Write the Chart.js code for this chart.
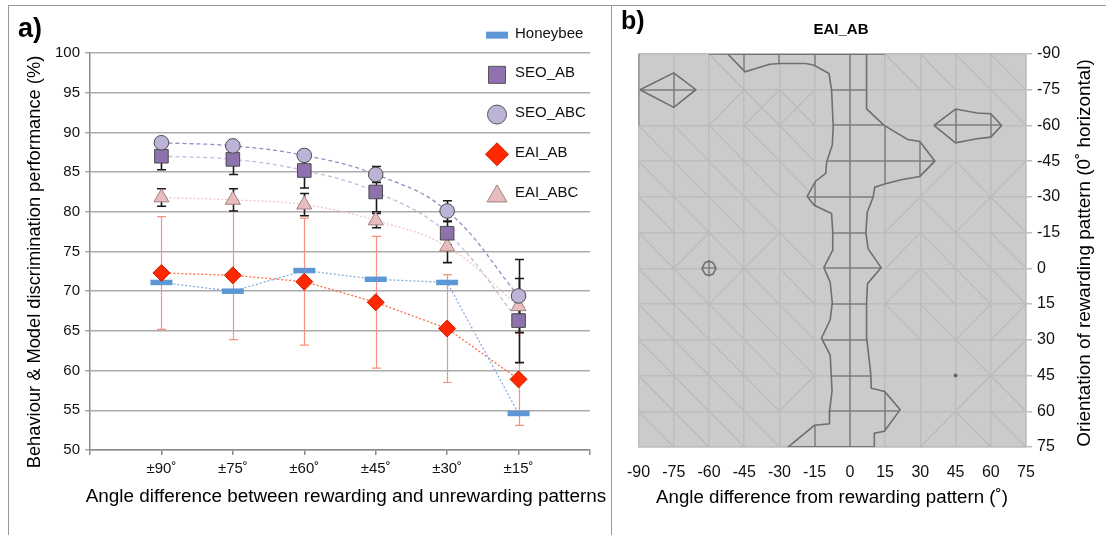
<!DOCTYPE html>
<html><head><meta charset="utf-8">
<script src="https://cdn.jsdelivr.net/npm/chart.js@4.4.1/dist/chart.umd.min.js"></script>
<style>
html,body{margin:0;padding:0;background:#fff;width:1106px;height:535px;overflow:hidden;}
#wrapA{position:absolute;left:0;top:0;width:611px;height:535px;}
#wrapB{position:absolute;left:611px;top:0;width:495px;height:535px;}
.frame{position:absolute;background:#999;}
</style></head><body>
<div id="wrapA"><canvas id="cA" width="611" height="535"></canvas></div>
<div id="wrapB"><canvas id="cB" width="495" height="535"></canvas></div>
<div class="frame" style="left:8px;top:5px;width:1098px;height:1px"></div>
<div class="frame" style="left:8px;top:5px;width:1px;height:530px"></div>
<div class="frame" style="left:611px;top:5px;width:1px;height:530px"></div>
<script>
// ---------- Panel a data ----------
const categories = ['±90˚','±75˚','±60˚','±45˚','±30˚','±15˚'];
const honeybee   = [71.1, 70.0, 72.6, 71.5, 71.1, 54.6];
const seoAB      = [87.0, 86.6, 85.2, 82.5, 77.3, 66.3];
const seoABErr   = [1.7, 1.9, 2.2, 2.5, 1.5, 5.3];
const seoABC     = [88.7, 88.3, 87.1, 84.7, 80.1, 69.4];
const seoABCErr  = [0.5, 0.5, 0.7, 1.0, 1.3, 4.6];
const eaiAB      = [72.3, 72.0, 71.2, 68.6, 65.3, 58.9];
const eaiABErr   = [7.1, 8.1, 8.0, 8.3, 6.8, 5.8];
const eaiABC     = [81.8, 81.5, 80.9, 78.9, 75.6, 68.1];
const eaiABCErr  = [1.1, 1.4, 1.4, 0.9, 2.0, 1.0];
const legendLabels = ['Honeybee','SEO_AB','SEO_ABC','EAI_AB','EAI_ABC'];

// ---------- Panel b data ----------
const xTicksB = [-90,-75,-60,-45,-30,-15,0,15,30,45,60,75];
const yTicksB = [-90,-75,-60,-45,-30,-15,0,15,30,45,60,75];
const mainBand = [
 [-52,-90],[-44.7,-82.5],[-34.1,-85.7],[-29.9,-86],[-18.7,-86],[-15.2,-85.3],[-8.9,-81.8],[-7.8,-74.8],
 [-7.1,-59.7],[-7.5,-51.7],[-9.9,-44.7],[-10.3,-39.9],[-14.6,-36.6],[-18.2,-30.2],[-15.2,-26.5],[-7.8,-23],
 [-7.3,-15.3],[-7.3,-7.7],[-11.1,-0.3],[-8.4,5.8],[-7.5,14.5],[-8.4,21.6],[-12.1,29.3],[-8.4,36.4],[-7.6,51.3],
 [-8.6,59.5],[-8.7,65.3],[-15.1,65.9],[-26.3,75],
 [10.3,75],[10.4,69.2],[14.7,68.4],[21.4,59.3],[14.8,51.7],[9.1,50.3],[8.9,44.4],[8.1,37.4],[7.2,29.7],
 [7.1,14.6],[7.5,6.4],[13.3,-0.3],[7.8,-8.1],[6.8,-15],[7.4,-23.6],[9.9,-29.9],[10.6,-34.1],[14.8,-35.4],
 [21.8,-37.2],[29.8,-38.6],[36.2,-45],[29.8,-53.3],[24.6,-54.1],[14.6,-60],[7.1,-67],[7.1,-90]
];
const blobUpperLeft = [[-89.4,-75],[-75,-82.1],[-65.6,-75],[-75,-67.6]];
const blobRight = [[35.8,-60],[45,-66.9],[54.1,-65.2],[60,-64.9],[64.6,-60],[60,-55.1],[54.1,-54.4],[45,-52.7]];
const blobSmall = [[-63,0],[-61.7,-2.4],[-60,-3.1],[-58.3,-2.4],[-57,0],[-58.3,2.4],[-60,3.1],[-61.7,2.4]];
const topEdgeDark = [[-60,-90],[15,-90]];
const leftEdgeDark = [[-90,-90],[-90,-60]];
const isolatedPoint = [[45,45]];
// diagonal direction of each cell: b = "\" , f = "/", x = both, . = none
const diagPattern = [
 '..b....bbbb',
 '..fxx.....b',
 'bbbbb......',
 'bbbbb...fbf',
 'bbbb...fbfb',
 'bfbfb..fbbb',
 'bbfbb..fbbb',
 'bbbbb..bbff',
 'bbbbb....bf',
 'bbbbf....fb',
 'bbbb....fbb'
];

const FONT = '"Liberation Sans", Arial, Helvetica, sans-serif';
Chart.defaults.font.family = FONT;
Chart.defaults.color = '#1a1a1a';

const pts = arr => arr.map((v, i) => ({x: i + 1, y: v}));

function trend(label, arr, color, dash, tension, width) {
  return {label, data: pts(arr), borderColor: color, borderWidth: width, borderDash: dash,
          pointRadius: 0, tension, fill: false, order: 10};
}
function markers(label, arr, style, radius, bg, border, bw, order, extra) {
  return Object.assign({label, data: pts(arr), showLine: false, pointStyle: style, pointRadius: radius,
          pointBackgroundColor: bg, pointBorderColor: border, pointBorderWidth: bw,
          backgroundColor: bg, borderColor: border, order}, extra || {});
}

const colHB = '#5d97d6', colSEOAB = '#8d72ae', colSEOABC = '#bdb3d7', colEAIAB = '#ff2800', colEAIABC = '#e9bdbd';

const errorBarPlugin = {
  id: 'errorBars',
  beforeDatasetDraw(chart, args) {
    const ds = chart.data.datasets[args.index];
    if (!ds.errorSets) return;
    const {ctx, scales: {x, y}} = chart;
    ctx.save();
    ds.errorSets.forEach(set => {
      ctx.strokeStyle = set.color; ctx.lineWidth = set.width;
      set.values.forEach((v, i) => {
        const px = Math.round(x.getPixelForValue(i + 1)) + 0.5;
        const top = y.getPixelForValue(v + set.err[i]);
        const bot = y.getPixelForValue(v - set.err[i]);
        ctx.beginPath();
        ctx.moveTo(px, top); ctx.lineTo(px, bot);
        ctx.moveTo(px - 4.5, top); ctx.lineTo(px + 4.5, top);
        ctx.moveTo(px - 4.5, bot); ctx.lineTo(px + 4.5, bot);
        ctx.stroke();
      });
    });
    ctx.restore();
  }
};

const legendA = {
  id: 'legendA',
  afterDraw(chart) {
    const {ctx, scales: {y}, chartArea: a} = chart;
    const mx = a.right - 93, tx = a.right - 75;
    ctx.save();
    legendLabels.forEach((lab, i) => {
      const cy = y.getPixelForValue(102.5 - 5 * i) + 2;
      ctx.lineWidth = 1;
      ctx.beginPath();
      if (i === 0) { ctx.fillStyle = colHB; ctx.fillRect(mx - 11, cy - 3.5, 22, 7); }
      else if (i === 1) { ctx.fillStyle = colSEOAB; ctx.strokeStyle = '#555'; ctx.rect(mx - 8.5, cy - 8.5, 17, 17); ctx.fill(); ctx.stroke(); }
      else if (i === 2) { ctx.fillStyle = colSEOABC; ctx.strokeStyle = '#555'; ctx.arc(mx, cy, 9.5, 0, Math.PI * 2); ctx.fill(); ctx.stroke(); }
      else if (i === 3) { ctx.fillStyle = colEAIAB; ctx.strokeStyle = '#c81e00'; ctx.moveTo(mx, cy - 11.5); ctx.lineTo(mx + 11.5, cy); ctx.lineTo(mx, cy + 11.5); ctx.lineTo(mx - 11.5, cy); ctx.closePath(); ctx.fill(); ctx.stroke(); }
      else { ctx.fillStyle = colEAIABC; ctx.strokeStyle = '#9d8080'; ctx.moveTo(mx, cy - 9); ctx.lineTo(mx + 10, cy + 8); ctx.lineTo(mx - 10, cy + 8); ctx.closePath(); ctx.fill(); ctx.stroke(); }
      ctx.fillStyle = '#111'; ctx.font = '15px ' + FONT; ctx.textBaseline = 'middle'; ctx.textAlign = 'left';
      ctx.fillText(lab, tx, cy - 1.5);
    });
    ctx.restore();
  }
};

const labelsA = {
  id: 'labelsA',
  afterDraw(chart) {
    const {ctx} = chart;
    ctx.save();
    ctx.fillStyle = '#000';
    ctx.font = 'bold 27px ' + FONT; ctx.textAlign = 'left'; ctx.textBaseline = 'alphabetic';
    ctx.fillText('a)', 18, 37);
    ctx.font = '18.9px ' + FONT; ctx.textAlign = 'center'; ctx.textBaseline = 'middle';
    ctx.fillText('Angle difference between rewarding and unrewarding patterns', 346, 497);
    ctx.font = '18.3px ' + FONT;
    ctx.translate(35, 262); ctx.rotate(-Math.PI / 2);
    ctx.fillText('Behaviour & Model discrimination performance (%)', 0, 0);
    ctx.restore();
  }
};

new Chart(document.getElementById('cA'), {
  type: 'line',
  data: { datasets: [
    trend('hbTrend', honeybee, '#86acdf', [2, 2], 0, 1.3),
    trend('seoABCTrend', seoABC, '#958dc4', [4, 3], 0.4, 1.3),
    trend('seoABTrend', seoAB, '#c3bbdf', [4, 3], 0.4, 1.3),
    trend('eaiABTrend', eaiAB, '#ff6a4a', [2, 2], 0, 1.3),
    trend('eaiABCTrend', eaiABC, '#f0c4c4', [2, 2], 0.4, 1.3),
    markers('Honeybee', honeybee, 'line', 11, colHB, colHB, 5.5, 5,
      {errorSets: [{values: eaiAB, err: eaiABErr, color: '#f7907c', width: 1.2}]}),
    markers('EAI_AB', eaiAB, 'rectRot', 8.5, colEAIAB, '#c81e00', 1, 4),
    markers('EAI_ABC', eaiABC, 'triangle', 8.7, colEAIABC, '#9d8080', 1, 3,
      {errorSets: [
        {values: eaiABC, err: eaiABCErr, color: '#1a1a1a', width: 1.6},
        {values: seoAB, err: seoABErr, color: '#1a1a1a', width: 1.6},
        {values: seoABC, err: seoABCErr, color: '#1a1a1a', width: 1.6}]}),
    markers('SEO_AB', seoAB, 'rect', 9.6, colSEOAB, '#4a4a4a', 1, 2),
    markers('SEO_ABC', seoABC, 'circle', 7.3, colSEOABC, '#4a4a4a', 1, 1)
  ]},
  options: {
    responsive: false, animation: false, events: [],
    layout: {padding: {top: 53, right: 21, left: 0, bottom: 0}},
    plugins: {legend: {display: false}, tooltip: {enabled: false}},
    scales: {
      x: {type: 'linear', min: 0, max: 7,
          afterFit: s => { s.height = 85; },
          ticks: {stepSize: 1, autoSkip: false, padding: 5, font: {size: 15}, color: '#111',
                  callback: v => categories[v - 1] || ''},
          grid: {drawOnChartArea: false, drawTicks: true, tickLength: 5, color: '#8a8a8a', lineWidth: 1.5},
          border: {color: '#8a8a8a', width: 1.5}},
      y: {min: 50, max: 100,
          afterFit: s => { s.width = 90; },
          ticks: {stepSize: 5, padding: 5, font: {size: 15}, color: '#111'},
          grid: {color: '#ababab', lineWidth: 1.5, tickLength: 5},
          border: {color: '#8a8a8a', width: 1.5}}
    }
  },
  plugins: [errorBarPlugin, legendA, labelsA]
});

// ---------- Panel b ----------
const bandRegions = [mainBand, blobUpperLeft, blobRight, blobSmall];

const bandPlugin = {
  id: 'bands',
  beforeDraw(chart) {
    const {ctx, chartArea: a} = chart;
    ctx.save(); ctx.fillStyle = '#cbcbcb'; ctx.fillRect(a.left, a.top, a.width, a.height); ctx.restore();
  },
  beforeDatasetsDraw(chart) {
    const {ctx, scales: {x, y}, chartArea: a} = chart;
    ctx.save(); ctx.strokeStyle = '#bababa'; ctx.lineWidth = 1.2;
    diagPattern.forEach((row, r) => {
      [...row].forEach((ch, c) => {
        const x0 = x.getPixelForValue(xTicksB[c]), x1 = x.getPixelForValue(xTicksB[c + 1]);
        const y0 = y.getPixelForValue(yTicksB[r]), y1 = y.getPixelForValue(yTicksB[r + 1]);
        ctx.beginPath();
        if (ch === 'b' || ch === 'x') { ctx.moveTo(x0, y0); ctx.lineTo(x1, y1); }
        if (ch === 'f' || ch === 'x') { ctx.moveTo(x0, y1); ctx.lineTo(x1, y0); }
        ctx.stroke();
      });
    });
    ctx.restore();
    bandRegions.forEach(poly => {
      ctx.save();
      ctx.beginPath();
      poly.forEach(([px, py], i) => {
        const X = x.getPixelForValue(px), Y = y.getPixelForValue(py);
        if (i) ctx.lineTo(X, Y); else ctx.moveTo(X, Y);
      });
      ctx.closePath();
      ctx.fillStyle = '#cbcbcb'; ctx.fill();
      ctx.clip();
      ctx.strokeStyle = '#7c7c7c'; ctx.lineWidth = 1.5;
      xTicksB.forEach(v => { const X = Math.round(x.getPixelForValue(v)); ctx.beginPath(); ctx.moveTo(X, a.top); ctx.lineTo(X, a.bottom); ctx.stroke(); });
      yTicksB.forEach(v => { const Y = Math.round(y.getPixelForValue(v)); ctx.beginPath(); ctx.moveTo(a.left, Y); ctx.lineTo(a.right, Y); ctx.stroke(); });
      ctx.restore();
    });
  }
};

const labelsB = {
  id: 'labelsB',
  afterDraw(chart) {
    const {ctx} = chart;
    ctx.save();
    ctx.fillStyle = '#000';
    ctx.font = 'bold 25px ' + FONT; ctx.textAlign = 'left'; ctx.textBaseline = 'alphabetic';
    ctx.fillText('b)', 10, 29);
    ctx.font = 'bold 15px ' + FONT; ctx.textAlign = 'center'; ctx.textBaseline = 'middle';
    ctx.fillText('EAI_AB', 230, 30);
    ctx.font = '18.7px ' + FONT;
    ctx.fillText('Angle difference from rewarding pattern (˚)', 221, 498);
    ctx.translate(474, 253); ctx.rotate(-Math.PI / 2);
    ctx.font = '18.9px ' + FONT;
    ctx.fillText('Orientation of rewarding pattern (0˚ horizontal)', 0, 0);
    ctx.restore();
  }
};

const toXY = arr => arr.map(([x, y]) => ({x, y}));
const outline = (arr, closed) => ({data: toXY(closed ? [...arr, arr[0]] : arr), showLine: true,
  borderColor: '#6f6f6f', borderWidth: 1.6, pointRadius: 0, fill: false, tension: 0});

new Chart(document.getElementById('cB'), {
  type: 'scatter',
  data: { datasets: [
    outline(mainBand, true), outline(blobUpperLeft, true), outline(blobRight, true), outline(blobSmall, true),
    outline(topEdgeDark, false), outline(leftEdgeDark, false),
    {data: toXY(isolatedPoint), pointRadius: 2, pointBackgroundColor: '#666', pointBorderWidth: 0}
  ]},
  options: {
    responsive: false, animation: false, events: [],
    layout: {padding: {top: 54, left: 23, right: 0, bottom: 0}},
    plugins: {legend: {display: false}, tooltip: {enabled: false}},
    scales: {
      x: {type: 'linear', min: -90, max: 75,
          afterFit: s => { s.height = 88; },
          ticks: {stepSize: 15, autoSkip: false, padding: 16, font: {size: 16}, color: '#111'},
          grid: {color: '#bdbdbd', lineWidth: 1.5, drawTicks: false},
          border: {color: '#bdbdbd', width: 1.5}},
      y: {type: 'linear', position: 'right', reverse: true, min: -90, max: 75,
          afterFit: s => { s.width = 80; },
          ticks: {stepSize: 15, autoSkip: false, padding: 5, font: {size: 16}, color: '#111'},
          grid: {color: '#bdbdbd', lineWidth: 1.5, tickLength: 6},
          border: {color: '#bdbdbd', width: 1.5}}
    }
  },
  plugins: [bandPlugin, labelsB]
});
</script>
</body></html>
